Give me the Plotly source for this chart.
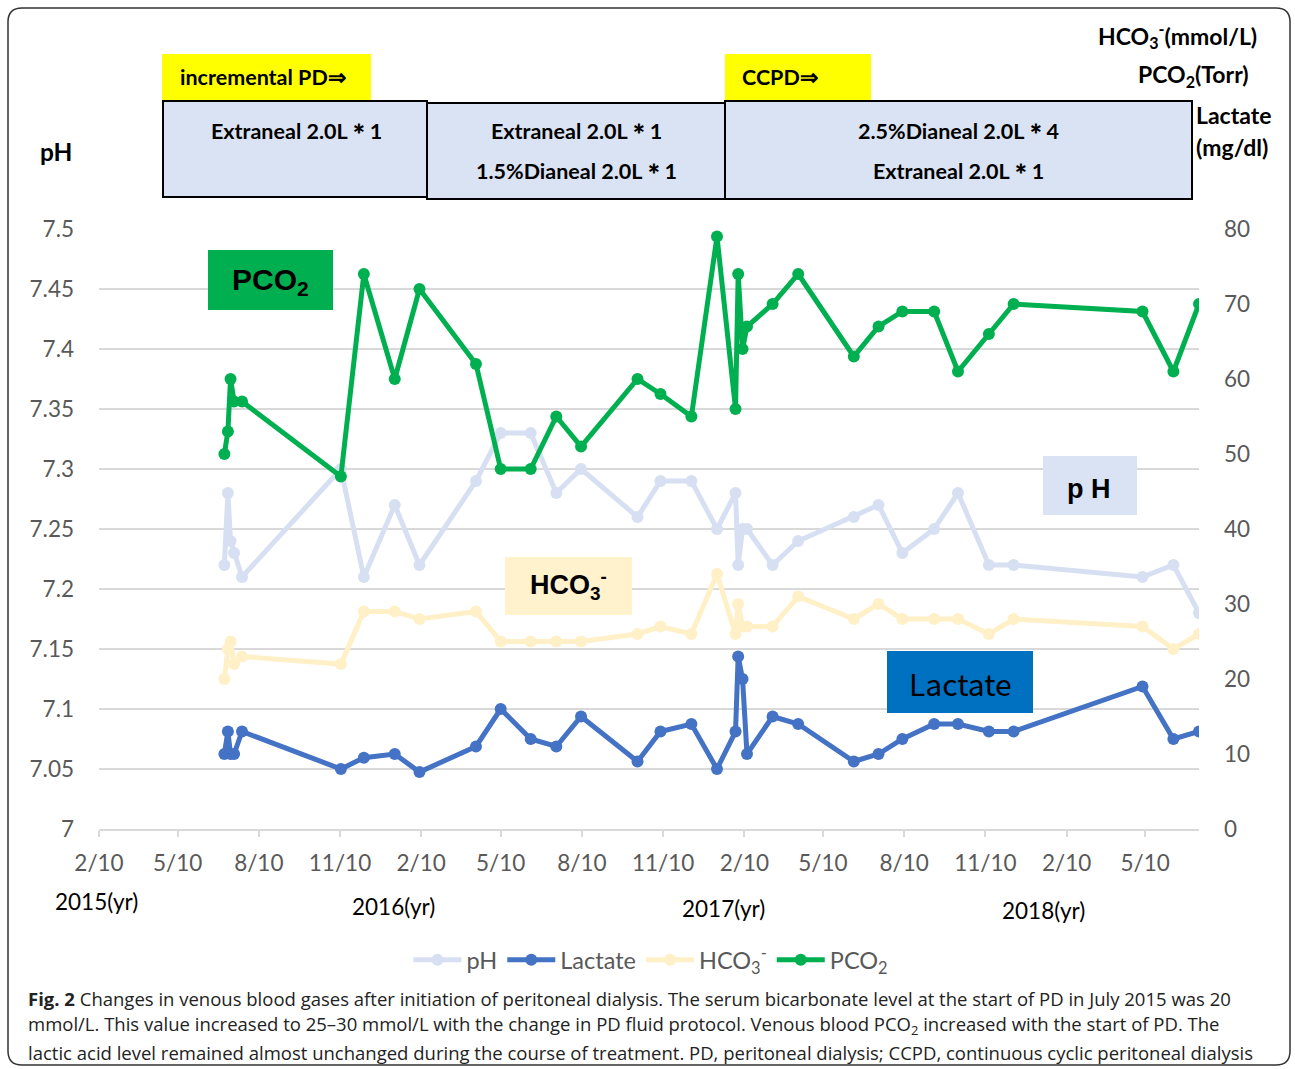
import plotly.graph_objects as go

# ---------------- data ----------------
dates = ["2015-07-02", "2015-07-06", "2015-07-09", "2015-07-13", "2015-07-22",
         "2015-11-11", "2015-12-07", "2016-01-11", "2016-02-08", "2016-04-12",
         "2016-05-10", "2016-06-13", "2016-07-12", "2016-08-09", "2016-10-12",
         "2016-11-07", "2016-12-12", "2017-01-10", "2017-01-31", "2017-02-03",
         "2017-02-08", "2017-02-13", "2017-03-14", "2017-04-12", "2017-06-14",
         "2017-07-12", "2017-08-08", "2017-09-13", "2017-10-10", "2017-11-14",
         "2017-12-12", "2018-05-07", "2018-06-11", "2018-07-10"]

ph = [7.22, 7.28, 7.24, 7.23, 7.21, 7.30, 7.21, 7.27, 7.22, 7.29,
      7.33, 7.33, 7.28, 7.30, 7.26, 7.29, 7.29, 7.25, 7.28, 7.22,
      7.25, 7.25, 7.22, 7.24, 7.26, 7.27, 7.23, 7.25, 7.28, 7.22,
      7.22, 7.21, 7.22, 7.18]

lactate = [10, 13, 10, 10, 13, 8, 9.5, 10, 7.6, 11,
           16, 12, 11, 15, 9, 13, 14, 8, 13, 23,
           20, 10, 15, 14, 9, 10, 12, 14, 14, 13,
           13, 19, 12, 13]

hco3 = [20, 24, 25, 22, 23, 22, 29, 29, 28, 29,
        25, 25, 25, 25, 26, 27, 26, 34, 26, 30,
        27, 27, 27, 31, 28, 30, 28, 28, 28, 26,
        28, 27, 24, 26]

pco2 = [50, 53, 60, 57, 57, 47, 74, 60, 72, 62,
        48, 48, 55, 51, 60, 58, 55, 79, 56, 74,
        64, 67, 70, 74, 63, 67, 69, 69, 61, 66,
        70, 69, 61, 70]

ph_tickvals = [7.0, 7.05, 7.1, 7.15, 7.2, 7.25, 7.3, 7.35, 7.4, 7.45, 7.5]
ph_ticktext = ["7", "7.05", "7.1", "7.15", "7.2", "7.25", "7.3", "7.35", "7.4", "7.45", "7.5"]
right_tickvals = [0, 10, 20, 30, 40, 50, 60, 70, 80]

year_labels = ["2015(yr)", "2016(yr)", "2017(yr)", "2018(yr)"]

# ---------------- geometry helpers ----------------
FW, FH = 1295, 1069
L, T, W, H = 99, 229, 1100, 600


def px(x):
    return (x - L) / W


def py(y):
    return (T + H - y) / H


FONT = "Lato, 'Open Sans', sans-serif"
GRAY = "#595959"

C_PH = "#D6E0F2"
C_LAC = "#4472C4"
C_HCO = "#FFF0C8"
C_PCO = "#00B050"

fig = go.Figure()

mk = dict(size=12)
LW = 5
fig.add_trace(go.Scatter(x=dates, y=ph, name="pH", mode="lines+markers",
                         line=dict(color=C_PH, width=LW), marker=dict(color=C_PH, **mk),
                         yaxis="y"))
fig.add_trace(go.Scatter(x=dates, y=lactate, name="Lactate", mode="lines+markers",
                         line=dict(color=C_LAC, width=LW), marker=dict(color=C_LAC, **mk),
                         yaxis="y2"))
fig.add_trace(go.Scatter(x=dates, y=hco3, name="HCO<sub>3</sub><sup>-</sup>", mode="lines+markers",
                         line=dict(color=C_HCO, width=LW), marker=dict(color=C_HCO, **mk),
                         yaxis="y2"))
fig.add_trace(go.Scatter(x=dates, y=pco2, name="PCO<sub>2</sub>", mode="lines+markers",
                         line=dict(color=C_PCO, width=LW), marker=dict(color=C_PCO, **mk),
                         yaxis="y2"))

shapes = []
annotations = []


def rect(x0, y0, x1, y1, fill, line_color=None, lw=0, layer="above"):
    shapes.append(dict(type="rect", xref="paper", yref="paper",
                       x0=px(x0), x1=px(x1), y0=py(y1), y1=py(y0),
                       fillcolor=fill,
                       line=dict(color=line_color or fill, width=lw),
                       layer=layer))


def text(x, y, s, size=20, color="black", bold=False, xanchor="center", family=FONT):
    if bold:
        s = "<b>" + s + "</b>"
    annotations.append(dict(xref="paper", yref="paper", x=px(x), y=py(y), text=s,
                            showarrow=False, xanchor=xanchor, yanchor="middle",
                            font=dict(size=size, color=color, family=family)))


# outer rounded frame
x0, y0, x1, y1, r = 8, 8, 1290, 1065, 14
path = (f"M {px(x0 + r)},{py(y0)} L {px(x1 - r)},{py(y0)} Q {px(x1)},{py(y0)} {px(x1)},{py(y0 + r)} "
        f"L {px(x1)},{py(y1 - r)} Q {px(x1)},{py(y1)} {px(x1 - r)},{py(y1)} "
        f"L {px(x0 + r)},{py(y1)} Q {px(x0)},{py(y1)} {px(x0)},{py(y1 - r)} "
        f"L {px(x0)},{py(y0 + r)} Q {px(x0)},{py(y0)} {px(x0 + r)},{py(y0)} Z")
shapes.append(dict(type="path", xref="paper", yref="paper", path=path,
                   line=dict(color="#333333", width=1.5), fillcolor="rgba(0,0,0,0)"))

# top protocol boxes
BOXF = "#DAE3F3"
rect(162, 54, 371, 100, "#FFFF00")
rect(725, 54, 871, 100, "#FFFF00")
rect(163, 101, 427, 197, BOXF, "black", 2)
rect(427, 103, 725, 199, BOXF, "black", 2)
rect(725, 101, 1192, 199, BOXF, "black", 2)

text(178, 77, "incremental PD⇒", 21.5, bold=True, xanchor="left")
text(740, 77, "CCPD⇒", 21.5, bold=True, xanchor="left")
text(296, 131, "Extraneal 2.0L＊1", 21.5, bold=True)
text(576, 131, "Extraneal 2.0L＊1", 21.5, bold=True)
text(576, 171, "1.5%Dianeal 2.0L＊1", 21.5, bold=True)
text(958, 131, "2.5%Dianeal 2.0L＊4", 21.5, bold=True)
text(958, 171, "Extraneal 2.0L＊1", 21.5, bold=True)

# axis titles
text(38, 152, "pH", 24.5, bold=True, xanchor="left")
text(1259, 36, "HCO<sub>3</sub><sup>-</sup>(mmol/L)", 23, bold=True, xanchor="right")
text(1251, 75, "PCO<sub>2</sub>(Torr)", 23, bold=True, xanchor="right")
text(1194, 115, "Lactate", 23, bold=True, xanchor="left")
text(1194, 147, "(mg/dl)", 23, bold=True, xanchor="left")

# in-plot labels
ARIAL = "'Liberation Sans', Arial, sans-serif"
rect(208, 250, 333, 310, "#00B050")
text(270, 281, "PCO<sub>2</sub>", 30, bold=True, family=ARIAL)
rect(1043, 456, 1137, 515, "#DAE3F3")
text(1089, 489, "p H", 27, bold=True, family=ARIAL)
rect(505, 557, 632, 615, "#FFF2CC")
text(568, 585, "HCO<sub>3</sub><sup>-</sup>", 27, bold=True, family=ARIAL)
rect(887, 651, 1033, 713, "#0070C0")
text(960, 683, "Lactate", 30, family="'Noto Sans CJK JP', sans-serif")

# year labels
for lbl, (xx, yy) in zip(year_labels, [(96, 901), (393, 906), (723, 908), (1043, 910)]):
    text(xx, yy, lbl, 22.5, color="black")

# caption
CAP = "'Open Sans', sans-serif"
cap_lines = [
    "<b>Fig. 2</b> Changes in venous blood gases after initiation of peritoneal dialysis. The serum bicarbonate level at the start of PD in July 2015 was 20",
    "mmol/L. This value increased to 25–30 mmol/L with the change in PD fluid protocol. Venous blood PCO<sub>2</sub> increased with the start of PD. The",
    "lactic acid level remained almost unchanged during the course of treatment. PD, peritoneal dialysis; CCPD, continuous cyclic peritoneal dialysis",
]
for i, s in enumerate(cap_lines):
    text(26, 998 + 27 * i, s, 18.5, color="#222222", xanchor="left", family=CAP)

fig.update_layout(
    width=FW, height=FH,
    margin=dict(l=L, r=FW - L - W, t=T, b=FH - T - H, pad=0),
    paper_bgcolor="white", plot_bgcolor="white",
    font=dict(family=FONT, color=GRAY, size=22),
    showlegend=True,
    legend=dict(orientation="h", x=px(651), xanchor="center", y=py(960), yanchor="middle",
                font=dict(size=23.5, color=GRAY, family=FONT), bgcolor="rgba(0,0,0,0)",
                itemwidth=48, traceorder="normal"),
    xaxis=dict(type="date", range=["2015-02-10", "2018-07-10"],
               tick0="2015-02-10", dtick="M3", tickformat="%-m/%-d",
               showgrid=False, showline=True, linecolor="#D9D9D9", linewidth=1.5,
               ticks="outside", ticklen=6, tickcolor="#D9D9D9", tickwidth=1.5,
               tickfont=dict(size=22.5, color=GRAY, family=FONT),
               ticklabelstandoff=7, zeroline=False, fixedrange=True),
    yaxis=dict(range=[7.0, 7.5], tickvals=ph_tickvals, ticktext=ph_ticktext,
               showgrid=True, gridcolor="#D9D9D9", gridwidth=1.5, zeroline=False,
               showline=False, ticks="", tickfont=dict(size=22.5, color=GRAY, family=FONT),
               ticklabelstandoff=24, fixedrange=True),
    yaxis2=dict(range=[0, 80], tickvals=right_tickvals, overlaying="y", side="right",
                showgrid=False, zeroline=False, showline=False, ticks="",
                tickfont=dict(size=22.5, color=GRAY, family=FONT),
                ticklabelstandoff=24, fixedrange=True),
    shapes=shapes,
    annotations=annotations,
)

fig.write_html("out.html", config={"displayModeBar": False},
               post_script="document.body.style.margin='0';")
